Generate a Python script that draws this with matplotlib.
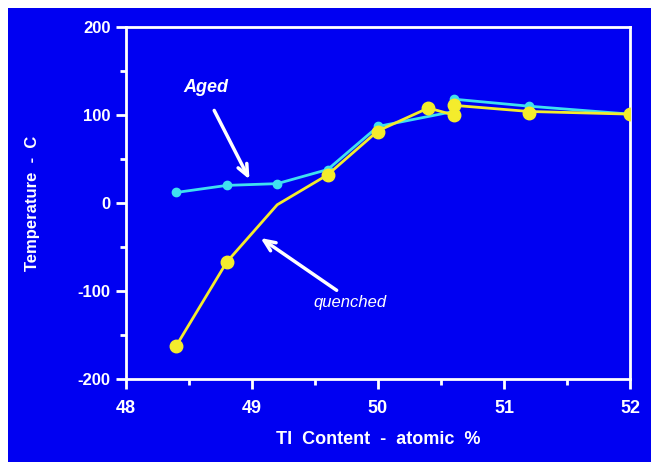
import matplotlib.pyplot as plt
from matplotlib.patches import Rectangle

plt.rcParams.update({"font.family": ["Liberation Sans", "DejaVu Sans"], "font.weight": "bold",
                     "axes.unicode_minus": False})

BLUE = "#0000F2"
CYAN = "#3FE0F0"
YELLOW = "#F4EC2C"

# Aged series (cyan)
aged_x = [48.4, 48.8, 49.2, 49.6, 50.0, 50.6, 50.6, 51.2, 52.0]
aged_y = [12, 20, 22, 38, 87, 104, 118, 110, 101]

# quenched series (yellow) - line passes through a kink at 49.2 with no marker
quen_line_x = [48.4, 48.8, 49.2, 49.6, 50.0, 50.4, 50.6, 50.6, 51.2, 52.0]
quen_line_y = [-162, -67, -2, 32, 82, 108, 100, 111, 104, 101]
quen_mark_x = [48.4, 48.8, 49.6, 50.0, 50.4, 50.6, 50.6, 51.2, 52.0]
quen_mark_y = [-162, -67, 32, 81, 108, 100, 111, 102, 101]

xticks = [48, 49, 50, 51, 52]
yticks = [-200, -100, 0, 100, 200]

fig = plt.figure(figsize=(6.51, 4.62), dpi=100, facecolor="white")
bg = Rectangle((8 / 651, 0), 1, 1 - 8 / 462, transform=fig.transFigure,
               facecolor=BLUE, edgecolor="none", zorder=-10)
fig.add_artist(bg)
ax = fig.add_axes([126 / 651, 1 - 379 / 462, (630 - 126) / 651, (379 - 27) / 462])
ax.set_facecolor(BLUE)

ax.plot(aged_x, aged_y, color=CYAN, lw=2, marker="o", ms=6, mec=CYAN, zorder=3)
ax.plot(quen_line_x, quen_line_y, color=YELLOW, lw=2, zorder=4)
ax.plot(quen_mark_x, quen_mark_y, ls="none", marker="o", ms=9, color=YELLOW, zorder=5)

ax.set_xlim(48, 52)
ax.set_ylim(-200, 200)
ax.set_xticks(xticks)
ax.set_yticks(yticks)
ax.set_xticks([48.5, 49.5, 50.5, 51.5], minor=True)
ax.set_yticks([-150, -50, 50, 150], minor=True)
for s in ax.spines.values():
    s.set_color("white")
    s.set_linewidth(2)
ax.tick_params(colors="white", width=2, length=7, labelsize=12, pad=4)
ax.tick_params(which="minor", colors="white", width=2, length=4)
ax.tick_params(axis="x", labelsize=13, pad=8)
for lbl in ax.get_xticklabels():
    lbl.set_fontweight("bold")
for lbl in ax.get_yticklabels():
    lbl.set_fontweight("bold")

ax.set_xlabel("TI  Content  -  atomic  %", color="white", fontsize=13, fontweight="bold", labelpad=10)
ax.set_ylabel("Temperature  -  C", color="white", fontsize=12, fontweight="bold", labelpad=27)

ax.text(48.63, 131, "Aged", color="white", fontsize=13, fontweight="bold", style="italic", ha="center", va="center")
ax.annotate("", xy=(48.99, 24), xytext=(48.69, 108),
            arrowprops=dict(arrowstyle="->,head_length=0.8,head_width=0.35", color="white", lw=2.5))
ax.text(49.78, -113, "quenched", color="white", fontsize=12, fontweight="normal", style="italic",
        ha="center", va="center")
ax.annotate("", xy=(49.05, -38), xytext=(49.69, -101),
            arrowprops=dict(arrowstyle="->,head_length=0.8,head_width=0.35", color="white", lw=2.5))

fig.savefig("out.png", dpi=100, facecolor="white")
